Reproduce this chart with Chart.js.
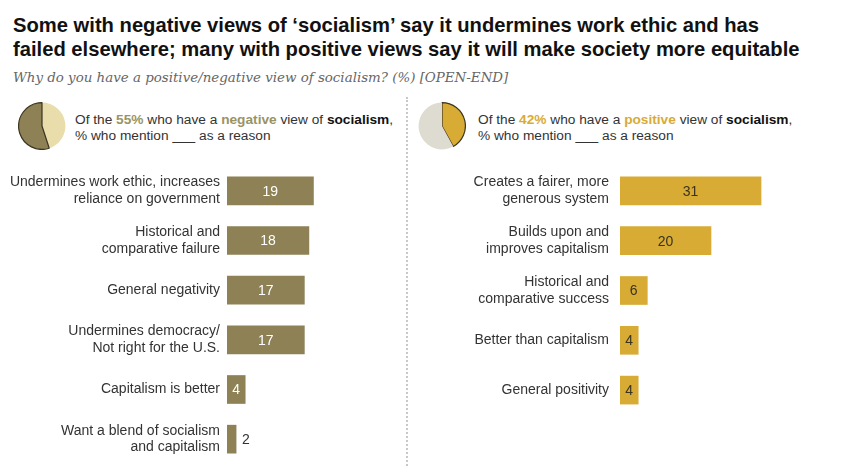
<!DOCTYPE html>
<html>
<head>
<meta charset="utf-8">
<script src="https://cdn.jsdelivr.net/npm/chart.js@4"></script>
<style>
  body { margin: 0; background: #fff; width: 865px; height: 466px; overflow: hidden; position: relative; font-family: "Liberation Sans", Arial, sans-serif; color: #222; }
  .title { position: absolute; left: 13px; top: 14px; font-weight: bold; font-size: 20.2px; line-height: 23.5px; color: #111; }
  .sub { position: absolute; left: 13px; top: 70px; font-family: "DejaVu Serif", "Liberation Serif", serif; font-style: italic; font-size: 13.4px; color: #666; }
  .head { position: absolute; top: 112px; font-size: 13.7px; line-height: 16px; color: #333; }
  .divider { position: absolute; left: 406px; top: 97px; height: 369px; border-left: 2px dotted #c8c8c8; }
  canvas { position: absolute; }
</style>
</head>
<body>
<div class="title">Some with negative views of ‘socialism’ say it undermines work ethic and has<br>failed elsewhere; many with positive views say it will make society more equitable</div>
<div class="sub">Why do you have a positive/negative view of socialism? (%) [OPEN-END]</div>
<div class="head" style="left:75px">Of the <b style="color:#9a9462">55%</b> who have a <b style="color:#9a9462">negative</b> view of <b style="color:#111">socialism</b>,<br>% who mention ___ as a reason</div>
<div class="head" style="left:478px">Of the <b style="color:#d9ab36">42%</b> who have a <b style="color:#d9ab36">positive</b> view of <b style="color:#111">socialism</b>,<br>% who mention ___ as a reason</div>
<div class="divider"></div>

<canvas id="pieNeg" style="left:18px;top:102px" width="48" height="48"></canvas>
<canvas id="piePos" style="left:418px;top:102px" width="48" height="48"></canvas>
<canvas id="barNeg" style="left:0;top:166px" width="400" height="298"></canvas>
<canvas id="barPos" style="left:410px;top:166px" width="420" height="249"></canvas>

<script>
const negLabels = [
  ["Undermines work ethic, increases", "reliance on government"],
  ["Historical and", "comparative failure"],
  "General negativity",
  ["Undermines democracy/", "Not right for the U.S."],
  "Capitalism is better",
  ["Want a blend of socialism", "and capitalism"]
];
const negValues = [19, 18, 17, 17, 4, 2];

const posLabels = [
  ["Creates a fairer, more", "generous system"],
  ["Builds upon and", "improves capitalism"],
  ["Historical and", "comparative success"],
  "Better than capitalism",
  "General positivity"
];
const posValues = [31, 20, 6, 4, 4];

// pie shares: [other, group]
const negShare = [45, 55];
const posShare = [42, 58];

const olive = "#8d8155";
const gold = "#d8ab35";

Chart.defaults.font.family = '"Liberation Sans", Arial, sans-serif';
Chart.defaults.animation = false;

// values written in (or just after) each bar
const valueLabels = {
  id: "valueLabels",
  afterDatasetsDraw(chart, args, opts) {
    const ctx = chart.ctx;
    const meta = chart.getDatasetMeta(0);
    const vals = chart.data.datasets[0].data;
    ctx.save();
    ctx.font = "14px " + Chart.defaults.font.family;
    ctx.textBaseline = "middle";
    meta.data.forEach((bar, i) => {
      const v = vals[i];
      if (v >= 3) {
        ctx.fillStyle = opts.inside;
        ctx.textAlign = "center";
        ctx.fillText(v, (bar.base + bar.x) / 2, bar.y + 1);
      } else {
        ctx.fillStyle = "#333";
        ctx.textAlign = "left";
        ctx.fillText(v, bar.x + 6, bar.y + 1);
      }
    });
    ctx.restore();
  }
};

function barChart(id, labels, values, color, yWidth, pad, xMax, inside) {
  new Chart(document.getElementById(id), {
    type: "bar",
    data: {
      labels: labels,
      datasets: [{ data: values, backgroundColor: color, barThickness: 28 }]
    },
    options: {
      indexAxis: "y",
      responsive: false,
      layout: { padding: 0 },
      plugins: { legend: { display: false }, tooltip: { enabled: false }, valueLabels: { inside: inside } },
      scales: {
        x: { display: false, min: 0, max: xMax },
        y: {
          grid: { display: false, drawTicks: false },
          border: { display: false },
          ticks: { color: "#333", padding: pad, font: { size: 14 } },
          afterFit(scale) {
            scale.width = yWidth;
            scale.paddingTop = 0;
            scale.paddingBottom = 0;
          }
        }
      }
    },
    plugins: [valueLabels]
  });
}

barChart("barNeg", negLabels, negValues, olive, 227, 7, 173 / 4.55, "#fff");
barChart("barPos", posLabels, posValues, gold, 210, 11, 210 / 4.55, "#3a3320");

function pie(id, share, colors, borders, widths) {
  new Chart(document.getElementById(id), {
    type: "pie",
    data: { datasets: [{ data: share, backgroundColor: colors, borderColor: borders, borderWidth: widths }] },
    options: {
      responsive: false,
      plugins: { legend: { display: false }, tooltip: { enabled: false } }
    }
  });
}

pie("pieNeg", negShare, ["#e9ddab", olive], ["#e9ddab", "#3b3522"], [0, 1.2]);
pie("piePos", posShare, [gold, "#dedbd0"], ["#3b3522", "#dedbd0"], [1.2, 0]);
</script>
</body>
</html>
